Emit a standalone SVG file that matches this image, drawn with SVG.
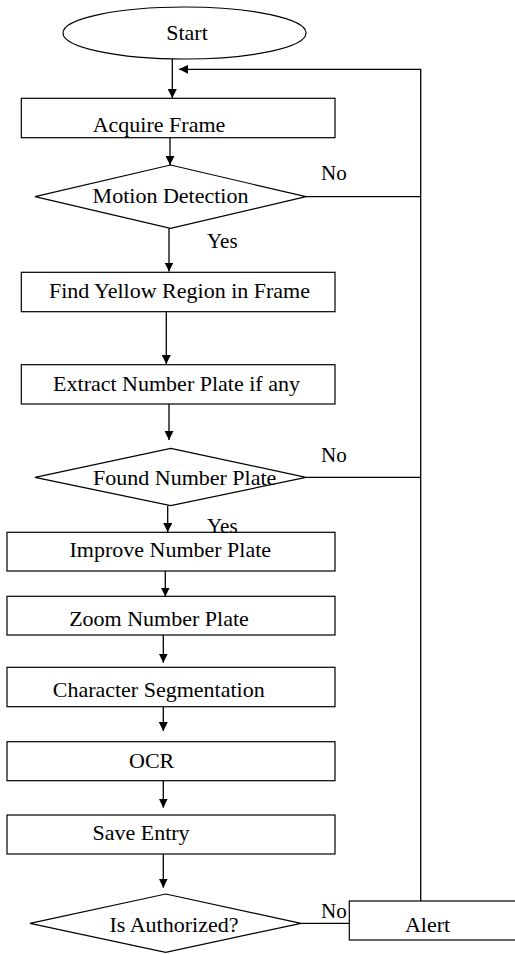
<svg xmlns="http://www.w3.org/2000/svg" width="515" height="954" viewBox="0 0 515 954">
<style>
.s{fill:#fff;stroke:#000;stroke-width:1.2}
.t{font-family:'Liberation Serif','DejaVu Serif',serif;font-size:22px;fill:#000;text-anchor:middle}
.l{font-family:'Liberation Serif','DejaVu Serif',serif;font-size:21px;fill:#000}
.c{fill:none;stroke:#000;stroke-width:1.3}
</style>
<defs>
<marker id="ah" markerUnits="userSpaceOnUse" markerWidth="9" markerHeight="9" refX="9" refY="4.5" orient="auto">
<path d="M0,0 L9,4.5 L0,9 z" fill="#000"/>
</marker>
</defs>
<rect width="515" height="954" fill="#fff"/>
<g id="connectors">
<line class="c" x1="172.3" y1="59" x2="172.3" y2="98" marker-end="url(#ah)"/>
<polyline class="c" points="420.7,901 420.7,69.3 179,69.3" marker-end="url(#ah)"/>
<line class="c" x1="170" y1="137.7" x2="170" y2="165" marker-end="url(#ah)"/>
<line class="c" x1="306" y1="196.7" x2="420.7" y2="196.7"/>
<line class="c" x1="169" y1="228.3" x2="169" y2="271.5" marker-end="url(#ah)"/>
<line class="c" x1="166.3" y1="311.7" x2="166.3" y2="364" marker-end="url(#ah)"/>
<line class="c" x1="169" y1="404" x2="169" y2="440" marker-end="url(#ah)"/>
<line class="c" x1="306" y1="477.3" x2="420.7" y2="477.3"/>
<line class="c" x1="167.7" y1="505.7" x2="167.7" y2="532" marker-end="url(#ah)"/>
<line class="c" x1="165.3" y1="571" x2="165.3" y2="596.5" marker-end="url(#ah)"/>
<line class="c" x1="163.3" y1="635" x2="163.3" y2="662.7" marker-end="url(#ah)"/>
<line class="c" x1="163.3" y1="706.7" x2="163.3" y2="731" marker-end="url(#ah)"/>
<line class="c" x1="163.3" y1="780.7" x2="163.3" y2="807.7" marker-end="url(#ah)"/>
<line class="c" x1="163.3" y1="854" x2="163.3" y2="887.7" marker-end="url(#ah)"/>
<line class="c" x1="301" y1="923.3" x2="349.3" y2="923.3"/>
<text class="l" x="321" y="180">No</text>
<text class="l" x="207" y="248">Yes</text>
<text class="l" x="321" y="461.7">No</text>
<text class="l" x="321" y="918.3">No</text>
</g>
<g id="start">
<ellipse class="s" cx="184.5" cy="33" rx="121.5" ry="26"/>
<text class="t" x="187" y="39.5">Start</text>
</g>
<g id="acquire">
<rect class="s" x="21.3" y="98.3" width="313.7" height="39.4"/>
<text class="t" x="159" y="131.5">Acquire Frame</text>
</g>
<g id="motion">
<polygon class="s" points="170.5,165 306,196.7 170.5,228.3 35,196.7"/>
<text class="t" x="170.5" y="203">Motion Detection</text>
</g>
<g id="yellow">
<rect class="s" x="21.3" y="272.3" width="313.7" height="39.4"/>
<text class="t" x="179.5" y="297.5">Find Yellow Region in Frame</text>
</g>
<g id="extract">
<rect class="s" x="21.3" y="364.7" width="313.7" height="39.3"/>
<text class="t" x="176.5" y="390.7">Extract Number Plate if any</text>
</g>
<g id="found">
<polygon class="s" points="170.7,448.3 306,477.3 170.7,505.7 35,477.3"/>
<text class="t" x="184.7" y="485">Found Number Plate</text>
</g>
<g id="improve">
<rect class="s" x="7" y="532.3" width="328" height="38.7"/>
<text class="t" x="170.3" y="556.7">Improve Number Plate</text>
</g>
<text class="l" x="207" y="533">Yes</text>
<g id="zoom">
<rect class="s" x="7" y="596.3" width="328" height="38.7"/>
<text class="t" x="159" y="626">Zoom Number Plate</text>
</g>
<g id="segmentation">
<rect class="s" x="7" y="667.3" width="328" height="39.4"/>
<text class="t" x="158.7" y="696.7">Character Segmentation</text>
</g>
<g id="ocr">
<rect class="s" x="7" y="741.7" width="328" height="39"/>
<text class="t" x="151.7" y="768.3">OCR</text>
</g>
<g id="save">
<rect class="s" x="7" y="815" width="328" height="39"/>
<text class="t" x="141" y="840">Save Entry</text>
</g>
<g id="authorized">
<polygon class="s" points="165.7,894 301,923.3 165.7,952.3 30,923.3"/>
<text class="t" x="174" y="932.3">Is Authorized?</text>
</g>
<g id="alert">
<rect class="s" x="349.3" y="901" width="170" height="39"/>
<text class="t" x="427.5" y="932.3">Alert</text>
</g>
</svg>
